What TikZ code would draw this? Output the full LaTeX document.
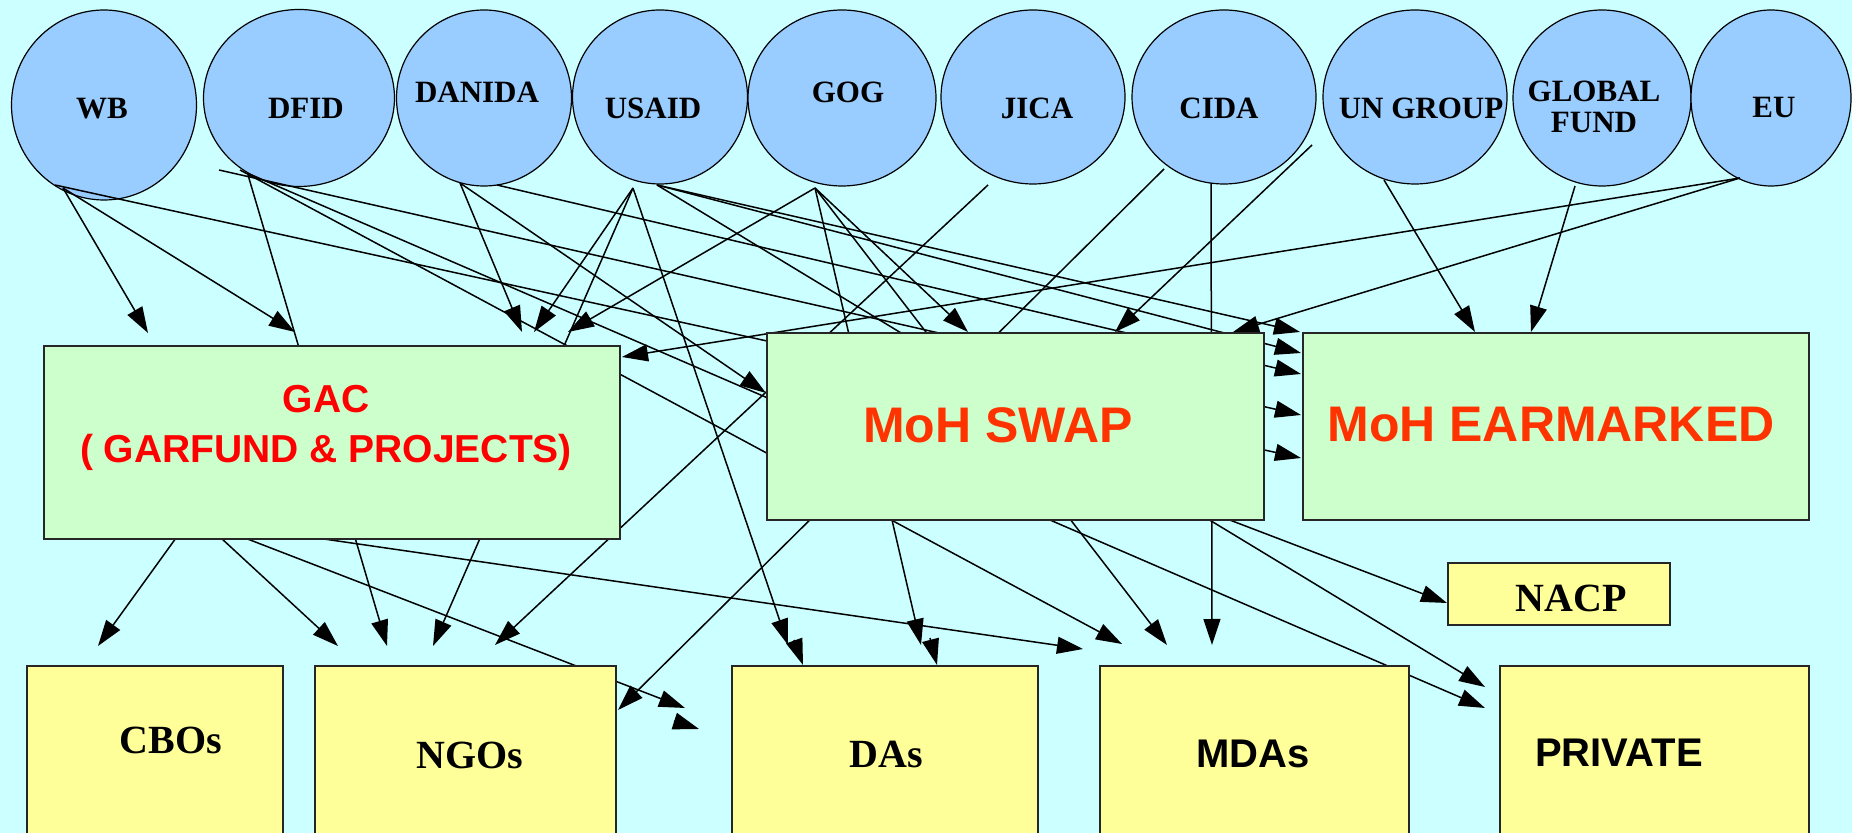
\documentclass[tikz,border=0pt]{standalone}
\usepackage{fontspec}
\setmainfont{Liberation Serif}
\setsansfont{Liberation Sans}
\usetikzlibrary{arrows.meta,shapes.geometric}
\definecolor{bgcyan}{HTML}{CCFFFF}
\definecolor{donorblue}{HTML}{99CCFF}
\definecolor{mohgreen}{HTML}{CCFFCC}
\definecolor{sinkyellow}{HTML}{FFFF99}
\definecolor{gacred}{HTML}{FF0000}
\definecolor{mohred}{HTML}{FF3300}

\begin{document}
\begin{tikzpicture}
[x=0.5pt,y=-0.5pt,
  donordecorate/.style={shape=ellipse,draw,fill=donorblue,inner sep=0pt,line width=0.6pt},%
  donortext/.style={font=\fontsize{15.5}{15.5}\selectfont\bfseries,align=center,inner sep=0pt},%
  greendecorate/.style={shape=rectangle,draw=black!85,fill=mohgreen,inner sep=0pt,line width=0.8pt},%
  yellowdecorate/.style={shape=rectangle,draw=black!85,fill=sinkyellow,inner sep=0pt,line width=0.8pt},%
  seriftext/.style={font=\fontsize{20}{24}\selectfont\bfseries,inner sep=0pt},%
  sanstext/.style={font=\fontsize{20}{24}\selectfont\sffamily\bfseries,inner sep=0pt},%
  mohtext/.style={font=\fontsize{25}{30}\selectfont\sffamily\bfseries,text=mohred,inner sep=0pt},%
  linedecorate/.style={-{Triangle[length=13pt,width=8.5pt]},line width=0.75pt}]
\fill[bgcyan] (0,0) rectangle (1852,833);
\useasboundingbox (0,0) rectangle (1852,833);
%% donors
\foreach \nodename/\x/\y/\w/\h in {
  WB/104/105/185/190, DFID/299/98/191/177, DANIDA/484/98/175/176,
  USAID/660/97/175/174, GOG/842/98/188/176, JICA/1033/97/184/174,
  CIDA/1224/97/184/174, UNGROUP/1415/97/184/174, GF/1602/98/178/176,
  EU/1771/98/160/176}
{
  \node (\nodename) at (\x,\y) [donordecorate,minimum width=\w*0.5pt,minimum height=\h*0.5pt] {};
}
\foreach \nodename/\x/\y/\txt in {
  WB/102/109/WB, DFID/306/108/DFID, DANIDA/477/92/DANIDA, USAID/653/108/USAID,
  GOG/848/92/GOG, JICA/1037/108/JICA, CIDA/1219/108/CIDA,
  UNGROUP/1421/108/UN GROUP, EU/1774/108/EU}
{
  \node (\nodename-t) at (\x,\y) [donortext] {\txt};
}
\node (GF-t) at (1594,107) [donortext] {GLOBAL\\FUND};
%% line ends
\foreach \pointname/\x/\y in {
  wb-a/63/188, wb-b/55/185, dfid-a/219/170, dfid-b/240/170, dfid-c/247/173,
  dfid-d/248/175, danida-a/460/183, danida-b/497/185, usaid-a/633/188,
  usaid-b/657/185, gog-a/815/188, jica-a/988/185, cida-a/1164/169,
  cida-b/1312/145, cida-c/1211/183, un-a/1384/180, gf-a/1575/186, eu-a/1740/178,
  gac-a/176/538, gac-b/221/538, gac-c/245/538, gac-d/317/538, swap-a/1180/501,
  gap-s/674/721, da-s3/794/640, da-s4/930/638}
{
  \coordinate (\pointname) at (\x,\y);
}
\foreach \pointname/\x/\y in {
  gac-in1/148/333, gac-in2/295/332, gac-in3/522/332, gac-in4/534/332,
  gac-in5/568/332, gac-in6/622/357, swap-in1/766/393, swap-in2/968/332,
  swap-in3/1115/332, swap-in4/1233/332, ear-in1/1300/332, ear-in2/1301/353,
  ear-in3/1301/374, ear-in4/1301/415, ear-in5/1301/458, ear-in6/1475/332,
  ear-in7/1531/332, nacp-in/1447/603, cbo-in/98/646, ngo-in1/338/646,
  ngo-in2/387/646, ngo-in3/433/646, ngo-in4/495/645, ngo-in5/618/710,
  da-in1/788/645, da-in2/921/645, da-in3/803/665, da-in4/937/665,
  mda-in1/1083/649, mda-in2/1122/644, mda-in3/1167/645, mda-in4/1212/645,
  pvt-in1/1485/687, pvt-in2/1485/708, gap-in1/685/708, gap-in2/699/729}
{
  \coordinate (\pointname) at (\x,\y);
}
%% edges or lines
\path
\foreach \startnode/\endnode in {
  wb-a/gac-in1, wb-a/gac-in2, wb-b/ear-in5, dfid-a/ear-in4, dfid-b/mda-in2,
  dfid-c/pvt-in2, dfid-d/ngo-in2, danida-a/gac-in3, danida-a/swap-in1,
  danida-b/ear-in3, usaid-a/gac-in4, usaid-a/ngo-in3, usaid-a/da-in1,
  usaid-b/ear-in1, usaid-b/ear-in2, usaid-b/pvt-in1, gog-a/gac-in5,
  gog-a/da-in2, gog-a/mda-in3, gog-a/swap-in2, jica-a/ngo-in4, cida-a/ngo-in5,
  cida-b/swap-in3, cida-c/mda-in4, un-a/ear-in6, gf-a/ear-in7, eu-a/gac-in6,
  eu-a/swap-in4, gac-a/cbo-in, gac-b/ngo-in1, gac-c/gap-in1, gac-d/mda-in1,
  swap-a/nacp-in, gap-s/gap-in2, da-s3/da-in3, da-s4/da-in4} {
  (\startnode) edge[linedecorate] node {} (\endnode)
};
%% boxes
\foreach \nodename/\x/\y/\w/\h in {
  GAC/332/442.5/576/193, SWAP/1015.5/426.5/497/187, EARMARKED/1556/426.5/506/187}
{
  \node (\nodename) at (\x,\y) [greendecorate,minimum width=\w*0.5pt,minimum height=\h*0.5pt] {};
}
\foreach \nodename/\x/\y/\w/\h in {
  NACP/1559/594/222/62, CBOs/155/753/256/174, NGOs/465.5/753/301/174,
  DAs/885/753/306/174, MDAs/1254.5/753/309/174, PRIVATE/1654.5/753/309/174}
{
  \node (\nodename) at (\x,\y) [yellowdecorate,minimum width=\w*0.5pt,minimum height=\h*0.5pt] {};
}
%% box texts
\node (GAC-t) at (326,428) [font=\fontsize{19.5}{25}\selectfont\sffamily\bfseries,
  text=gacred,align=center,inner sep=0pt] {GAC\\( GARFUND \& PROJECTS)};
\node (SWAP-t) at (998,425) [mohtext] {MoH SWAP};
\node (EARMARKED-t) at (1551,425) [mohtext] {MoH EARMARKED};
\foreach \nodename/\x/\y in {NACP/1571/598, CBOs/171/740, NGOs/470/755, DAs/886/754}
{
  \node (\nodename-t) at (\x,\y) [seriftext] {\nodename};
}
\foreach \nodename/\x/\y in {MDAs/1253/754, PRIVATE/1619/753}
{
  \node (\nodename-t) at (\x,\y) [sanstext] {\nodename};
}
\end{tikzpicture}
\end{document}
